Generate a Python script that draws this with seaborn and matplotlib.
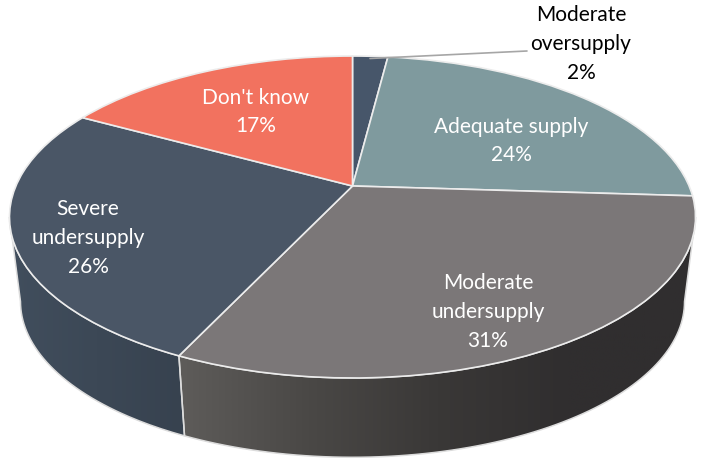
import numpy as np
import matplotlib
matplotlib.use('Agg')
import matplotlib.pyplot as plt
import seaborn as sns
from matplotlib.patches import PathPatch
from matplotlib.path import Path
from matplotlib.transforms import Transform

# data
categories = ['Moderate\noversupply', 'Adequate supply', 'Moderate\nundersupply', 'Severe\nundersupply', "Don't know"]
shares = [2, 24, 31, 26, 17]
top_colors = ['#47566a', '#7f9a9e', '#7b7778', '#4a5666', '#f2725f']
side_colors = [['#3a4656', '#3a4656'], ['#5f7478', '#5f7478'],
               ['#5e5c5a', '#4a4846', '#3a3837', '#302e2f', '#302e2f'],
               ['#414e5d', '#37424f'], ['#c25a4a', '#c25a4a']]
label_colors = ['black', 'white', 'white', 'white', 'white']
label_x = [581, 511, 488, 88, 256]
label_y = [44, 141, 312, 238, 112]

TILT_K = 0.1926


class Tilt(Transform):
    # projects the unit circle of the pie onto a receding ellipse, in pixels
    input_dims = output_dims = 2

    def __init__(self, half_w, half_h, apex_y, k=TILT_K, cx=352.5):
        super().__init__()
        self.half_w, self.half_h, self.apex_y, self.k, self.cx = half_w, half_h, apex_y, k, cx

    def transform_non_affine(self, values):
        values = np.asarray(values, dtype=float)
        d = 1 + self.k * values[:, 1]
        return np.column_stack([self.cx + self.half_w * values[:, 0] / d,
                                self.apex_y - self.half_h * values[:, 1] / d])

    def transform_path_non_affine(self, path):
        return Path(self.transform_non_affine(path.vertices), path.codes)


top = Tilt(336.6, 155.0, 186.0)
bottom = Tilt(325.8, 150.0, 271.5)

sns.set_theme(style='white')
plt.rcParams['font.family'] = ['Lato', 'DejaVu Sans']

fig, ax = plt.subplots(figsize=(7.03, 4.62), dpi=100)
fig.subplots_adjust(0, 0, 1, 1)

wedges, _ = ax.pie(shares, colors=top_colors, startangle=90, counterclock=False,
                   wedgeprops={'edgecolor': '#ececec', 'linewidth': 1.2})
ax.set_aspect('auto')

# only the front of the rim shows, between the two silhouette angles
front = np.arccos(-TILT_K)
edges = np.cumsum([0] + shares) / sum(shares) * 2 * np.pi
for i, wedge in enumerate(wedges):
    wedge.set_transform(top + ax.transData)
    wedge.set_zorder(3)

    lo, hi = max(edges[i], front), min(edges[i + 1], 2 * np.pi - front)
    if lo >= hi:
        continue
    theta = np.linspace(lo, hi, 80)
    rim = np.column_stack([np.sin(theta), np.cos(theta)])
    outline = np.vstack([top.transform_non_affine(rim), bottom.transform_non_affine(rim)[::-1]])
    ax.add_patch(PathPatch(Path(np.vstack([outline, outline[:1]])), facecolor='none',
                           edgecolor='#dcdcdc', linewidth=1.1, zorder=2))
    # side wall of the slice, shaded left to right
    shade = sns.blend_palette(side_colors[i], as_cmap=True)
    im = ax.imshow(np.linspace(0, 1, 256)[None, :], cmap=shade, aspect='auto', zorder=1,
                   extent=[outline[:, 0].min(), outline[:, 0].max(), outline[:, 1].max(), outline[:, 1].min()])
    im.set_clip_path(PathPatch(Path(np.vstack([outline, outline[:1]])), transform=ax.transData))

ax.set_xlim(0, 703)
ax.set_ylim(462, 0)
ax.axis('off')

# leader line of the small slice
ax.plot([527, 370], [51, 58.5], color='#a6a6a6', lw=1.2, zorder=4)

for name, share, color, x, y in zip(categories, shares, label_colors, label_x, label_y):
    ax.text(x, y, f'{name}\n{share}%', color=color, fontsize=15, ha='center', va='center',
            linespacing=1.55, zorder=5)

fig.savefig('out.png', dpi=100)
